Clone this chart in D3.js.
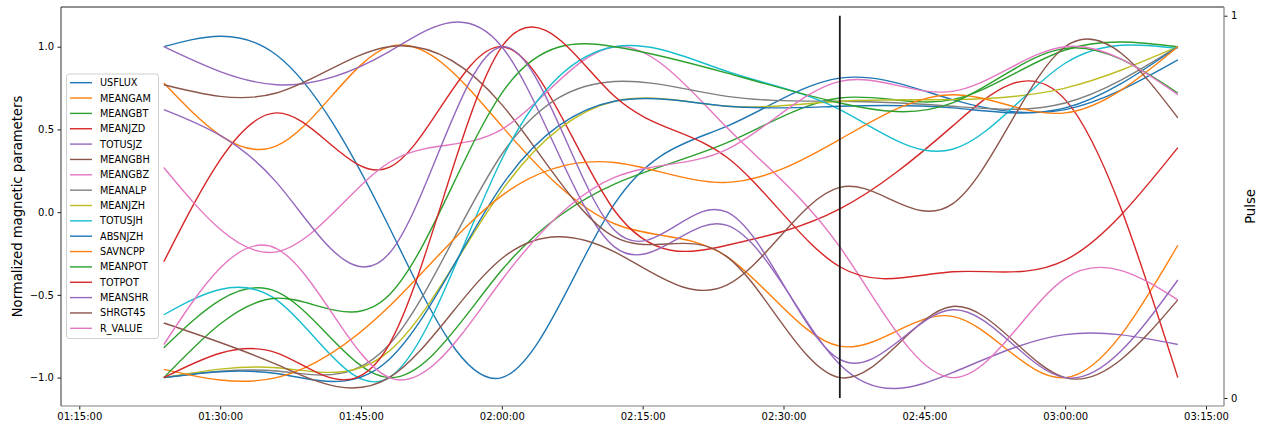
<!DOCTYPE html>
<html>
<head>
<meta charset="utf-8">
<script src="https://cdn.jsdelivr.net/npm/d3@7"></script>
<style>
html, body { margin: 0; padding: 0; background: #fff; }
svg { display: block; font-family: "DejaVu Sans", sans-serif; }
</style>
</head>
<body>
<svg id="chart" width="1268" height="428"></svg>
<script>
// SHARP parameters sampled every 12 minutes, each normalised to [-1, 1]
const sampleTimes = ["01:24", "01:36", "01:48", "02:00", "02:12", "02:24", "02:36", "02:48", "03:00", "03:12"];

const USFLUX  = [1.00, 0.95, -0.09, -1.00, 0.05, 0.52, 0.81, 0.68, 0.62, 0.92];
const MEANGAM = [0.78, 0.40, 1.00, 0.52, -0.07, -0.27, -0.81, -0.63, -1.00, -0.20];
const MEANGBT = [-0.82, -0.48, -1.00, -0.35, 0.17, 0.42, 0.69, 0.68, 0.98, 1.00];
const MEANJZD = [-0.30, 0.60, 0.27, 1.00, 0.01, -0.20, 0.02, 0.52, 0.68, -1.00];
const TOTUSJZ = [1.00, 0.77, 0.97, 1.00, -0.21, -0.08, -0.92, -0.97, -0.74, -0.80];
const MEANGBH = [0.77, 0.72, 1.00, 0.65, -0.15, -0.27, -1.00, -0.57, -1.00, -0.53];
const MEANGBZ = [0.27, -0.24, 0.30, 0.50, 1.00, 0.51, -0.21, -1.00, -0.40, -0.53];
const MEANALP = [-1.00, -0.96, -0.80, 0.35, 0.79, 0.70, 0.67, 0.64, 0.66, 1.00];
const MEANJZH = [-1.00, -0.94, -0.84, 0.13, 0.67, 0.64, 0.67, 0.68, 0.75, 1.00];
const TOTUSJH = [-0.62, -0.53, -1.00, 0.32, 1.00, 0.85, 0.62, 0.38, 0.90, 0.99];
const ABSNJZH = [-1.00, -0.975, -0.89, 0.16, 0.67, 0.64, 0.64, 0.63, 0.63, 1.00];
const SAVNCPP = [-0.95, -1.00, -0.57, 0.10, 0.30, 0.18, 0.44, 0.71, 0.60, 1.00];
const MEANPOT = [-1.00, -0.52, -0.50, 0.72, 1.00, 0.84, 0.66, 0.66, 0.99, 0.72];
const TOTPOT  = [-1.00, -0.85, -0.80, 1.00, 0.70, 0.33, -0.33, -0.36, -0.29, 0.39];
const MEANSHR = [0.62, 0.18, -0.25, 1.00, -0.11, 0.00, -0.89, -0.59, -1.00, -0.41];
const SHRGT45 = [-0.67, -0.92, -1.00, -0.28, -0.24, -0.44, 0.15, 0.05, 1.00, 0.57];
const R_VALUE = [-0.80, -0.22, -1.00, -0.41, 0.21, 0.38, 0.79, 0.73, 1.00, 0.71];

const seriesNames = ["USFLUX", "MEANGAM", "MEANGBT", "MEANJZD", "TOTUSJZ", "MEANGBH", "MEANGBZ", "MEANALP",
  "MEANJZH", "TOTUSJH", "ABSNJZH", "SAVNCPP", "MEANPOT", "TOTPOT", "MEANSHR", "SHRGT45", "R_VALUE"];
const seriesValues = [USFLUX, MEANGAM, MEANGBT, MEANJZD, TOTUSJZ, MEANGBH, MEANGBZ, MEANALP,
  MEANJZH, TOTUSJH, ABSNJZH, SAVNCPP, MEANPOT, TOTPOT, MEANSHR, SHRGT45, R_VALUE];

// flare pulse marker on the secondary axis
const pulseTimes = ["02:36", "02:36"];
const pulseValues = [0, 1];

const leftTicks = [-1.0, -0.5, 0.0, 0.5, 1.0];
const rightTicks = [0, 1];
const timeDomain = ["01:13:03", "03:16:55"];

const palette = ["#1f77b4", "#ff7f0e", "#2ca02c", "#d62728", "#9467bd",
                 "#8c564b", "#e377c2", "#7f7f7f", "#bcbd22", "#17becf"];

// plot frame
const L = 61, R = 1224, T = 7, B = 406;

const parseHM = d3.timeParse("%H:%M");
const parseHMS = d3.timeParse("%H:%M:%S");

const x = d3.scaleTime().domain(timeDomain.map(parseHMS)).range([L, R]);
const y = d3.scaleLinear().domain([-1.1715, 1.2399]).range([B, T]);
const y2 = d3.scaleLinear().domain([-0.0209, 1.0228]).range([B, T]);

const svg = d3.select("#chart");
const times = sampleTimes.map(parseHM);

// smooth cubic spline through the 12-minute samples
const line = d3.line()
  .x(d => x(d.t))
  .y(d => y(d.v))
  .curve(d3.curveNatural);

const gLines = svg.append("g");
seriesValues.forEach((vals, i) => {
  gLines.append("path")
    .datum(vals.map((v, k) => ({t: times[k], v})))
    .attr("fill", "none")
    .attr("stroke", palette[i % 10])
    .attr("stroke-width", 1.4)
    .attr("d", line);
});

// pulse marker
const pulseLine = d3.line().x(d => x(d.t)).y(d => y2(d.v));
svg.append("path")
  .datum(pulseTimes.map((t, k) => ({t: parseHM(t), v: pulseValues[k]})))
  .attr("fill", "none")
  .attr("stroke", "#1a1a1a")
  .attr("stroke-width", 1.8)
  .attr("d", pulseLine);

// axes
const fmt = d3.timeFormat("%H:%M:%S");
const xAxis = svg.append("g")
  .attr("transform", `translate(0,${B})`)
  .call(d3.axisBottom(x).ticks(d3.timeMinute.every(15)).tickFormat(fmt).tickSize(3.5).tickPadding(3.5));
const yAxis = svg.append("g")
  .attr("transform", `translate(${L},0)`)
  .call(d3.axisLeft(y).tickValues(leftTicks).tickFormat(d => d3.format(".1f")(d).replace("-", "\u2212")).tickSize(3.5).tickPadding(3.5));
const y2Axis = svg.append("g")
  .attr("transform", `translate(${R},0)`)
  .call(d3.axisRight(y2).tickValues(rightTicks).tickFormat(d3.format("d")).tickSize(3.5).tickPadding(3.5));

[xAxis, yAxis, y2Axis].forEach(g => {
  g.select(".domain").remove();
  g.selectAll("text").attr("font-size", 10).attr("fill", "#000").attr("font-family", "DejaVu Sans, sans-serif");
  g.selectAll("line").attr("stroke", "#000").attr("stroke-width", 0.9);
});

// spines
svg.append("line").attr("x1", L).attr("x2", R).attr("y1", T).attr("y2", T).attr("stroke", "#222").attr("stroke-width", 1);
svg.append("line").attr("x1", L).attr("x2", L).attr("y1", T).attr("y2", B).attr("stroke", "#333").attr("stroke-width", 1);
svg.append("line").attr("x1", L).attr("x2", R).attr("y1", B).attr("y2", B).attr("stroke", "#808080").attr("stroke-width", 1.2);
svg.append("line").attr("x1", R).attr("x2", R).attr("y1", T).attr("y2", B).attr("stroke", "#808080").attr("stroke-width", 1.2);

// axis titles
svg.append("text")
  .attr("transform", `translate(17,${(T + B) / 2}) rotate(-90)`)
  .attr("text-anchor", "middle").attr("dy", "0.35em")
  .attr("font-size", 13.2).attr("fill", "#000")
  .text("Normalized magnetic parameters");
svg.append("text")
  .attr("transform", `translate(1250,${(T + B) / 2}) rotate(-90)`)
  .attr("text-anchor", "middle").attr("dy", "0.35em")
  .attr("font-size", 13.2).attr("fill", "#000")
  .text("Pulse");

// legend
const lg = svg.append("g");
lg.append("rect")
  .attr("x", 66.5).attr("y", 74).attr("width", 92).attr("height", 264.5)
  .attr("rx", 2.5).attr("fill", "#fff").attr("fill-opacity", 0.8)
  .attr("stroke", "#d0d0d0").attr("stroke-width", 1);
seriesNames.forEach((name, i) => {
  const cy = 82.7 + i * 15.35;
  lg.append("line").attr("x1", 70).attr("x2", 92).attr("y1", cy).attr("y2", cy)
    .attr("stroke", palette[i % 10]).attr("stroke-width", 1.4);
  lg.append("text").attr("x", 100).attr("y", cy).attr("dy", "0.36em")
    .attr("font-size", 9.7).attr("fill", "#000").text(name);
});
</script>
</body>
</html>
